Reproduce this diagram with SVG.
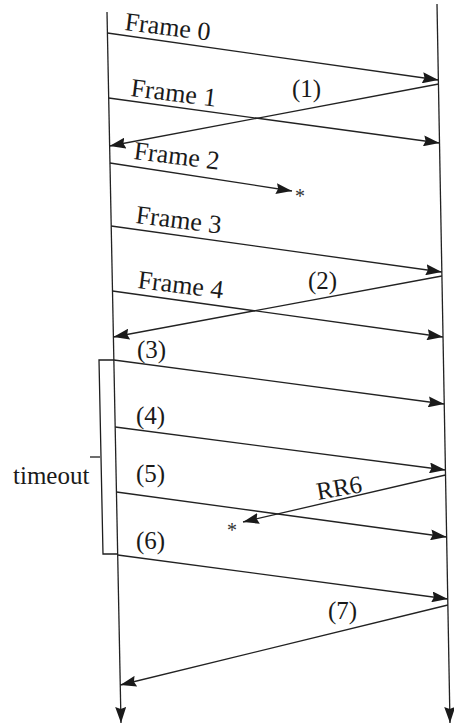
<svg xmlns="http://www.w3.org/2000/svg" width="454" height="725" viewBox="0 0 454 725">
<defs>
<marker id="ah" viewBox="0 0 16 11" refX="16" refY="5.5" markerWidth="16" markerHeight="11" markerUnits="userSpaceOnUse" orient="auto">
<path d="M0,0 L16,5.5 L0,11 L2,5.5 Z" fill="#1a1a1a"/>
</marker>
<style>
.ln{stroke:#1e1e1e;stroke-width:1.3;fill:none}
.msg{stroke:#222;stroke-width:1.3;fill:none;marker-end:url(#ah)}
.t{font-size:25px;fill:#1a1a1a}
.f{font-size:26px;fill:#1a1a1a}
.s{font-size:20px;fill:#333}
</style>
</defs>
<rect width="454" height="725" fill="#fff"/>
<g id="sender">
<path class="msg" d="M107,12 L121,723"/>
</g>
<g id="receiver">
<path class="msg" d="M437,4 L450,723"/>
</g>
<g id="timeout" font-family="'Liberation Serif', 'Times New Roman', 'DejaVu Serif', serif">
<path class="ln" d="M113.9,360 L99,360 L103,554 L117.7,554"/>
<path class="ln" d="M90,457 L100,457"/>
<text class="t" x="13" y="484">timeout</text>
</g>
<g id="connectors">
<path class="msg" d="M107.4,33 L438.4,80"/>
<path class="msg" d="M108.7,98 L439.5,143"/>
<path class="msg" d="M438.6,84 L109.6,146"/>
<path class="msg" d="M110,163 L292,191"/>
<path class="msg" d="M111.2,226 L441.8,272"/>
<path class="msg" d="M441.9,276 L113.4,337"/>
<path class="msg" d="M112.5,291 L443,337"/>
<path class="msg" d="M113.9,360 L444.2,404"/>
<path class="msg" d="M115.2,427 L445.4,470"/>
<path class="msg" d="M445.5,475 L243,522"/>
<path class="msg" d="M116.5,492 L446.6,537"/>
<path class="msg" d="M117.7,555 L447.8,599"/>
<path class="msg" d="M447.9,605 L120.3,685"/>
</g>
<g id="labels" font-family="'Liberation Serif', 'Times New Roman', 'DejaVu Serif', serif">
<text class="f" x="124" y="30" transform="rotate(7 124 30)">Frame 0</text>
<text class="f" x="130" y="96" transform="rotate(7 130 96)">Frame 1</text>
<text class="f" x="133" y="159" transform="rotate(7 133 159)">Frame 2</text>
<text class="f" x="135" y="223" transform="rotate(7 135 223)">Frame 3</text>
<text class="f" x="137" y="288" transform="rotate(7 137 288)">Frame 4</text>
<text class="t" x="292" y="97">(1)</text>
<text class="t" x="308" y="289">(2)</text>
<text class="t" x="137" y="358">(3)</text>
<text class="t" x="136" y="424">(4)</text>
<text class="t" x="136" y="482">(5)</text>
<text class="t" x="136" y="549">(6)</text>
<text class="t" x="328" y="619">(7)</text>
<text class="t" x="318" y="500" transform="rotate(-10 318 500)">RR6</text>
<text class="s" x="295" y="203">*</text>
<text class="s" x="227" y="537">*</text>
</g>
</svg>
